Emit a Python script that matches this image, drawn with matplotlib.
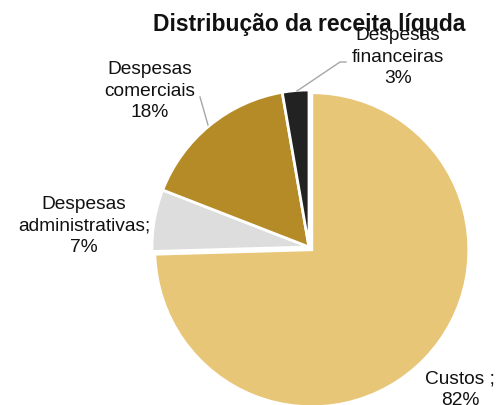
import matplotlib
matplotlib.use('Agg')
import matplotlib.pyplot as plt

categories = ['Custos', 'Despesas administrativas', 'Despesas comerciais', 'Despesas financeiras']
values = [82, 7, 18, 3]
label_texts = ['Custos ;\n82%', 'Despesas\nadministrativas;\n7%', 'Despesas\ncomerciais\n18%', 'Despesas\nfinanceiras\n3%']
colors = ['#E8C677', '#DDDDDD', '#B58B27', '#222222']

plt.rcParams['font.family'] = ['Liberation Sans', 'DejaVu Sans']

W, H = 497, 405
cx, cy, r = 309, 247, 157


def to_data(px, py):
    return (px - cx) / r, (cy - py) / r


fig = plt.figure(figsize=(W / 100, H / 100), dpi=100)
ax = fig.add_axes([(cx - r) / W, (H - cy - r) / H, 2 * r / W, 2 * r / H])
ax.pie(values, colors=colors, startangle=90, counterclock=False,
       explode=[0.025, 0, 0, 0], radius=1,
       wedgeprops=dict(edgecolor='white', linewidth=2))
ax.set_xlim(-1, 1)
ax.set_ylim(-1, 1)
ax.set_aspect('equal')
ax.axis('off')

# label positions in pixels of the reference
label_pos = [(460, 390), (84, 226), (150, 91), (398, 57)]
for txt, (px, py) in zip(label_texts, label_pos):
    x, y = to_data(px, py)
    ax.text(x, y, txt, ha='center', va='center', fontsize=13.8,
            linespacing=1.33, color='#111111', clip_on=False)

# leader lines
for pts in [[(297, 91), (340, 62), (346, 62)], [(208, 125), (200, 97)]]:
    xs, ys = zip(*[to_data(*p) for p in pts])
    ax.plot(xs, ys, color='#A6A6A6', linewidth=1, clip_on=False)

fig.text(cx / W, 1 - 25 / H, 'Distribução da receita líquda', ha='center', va='center',
         fontsize=16.5, fontweight='bold', color='#111111')

fig.savefig('out.png', dpi=100)
